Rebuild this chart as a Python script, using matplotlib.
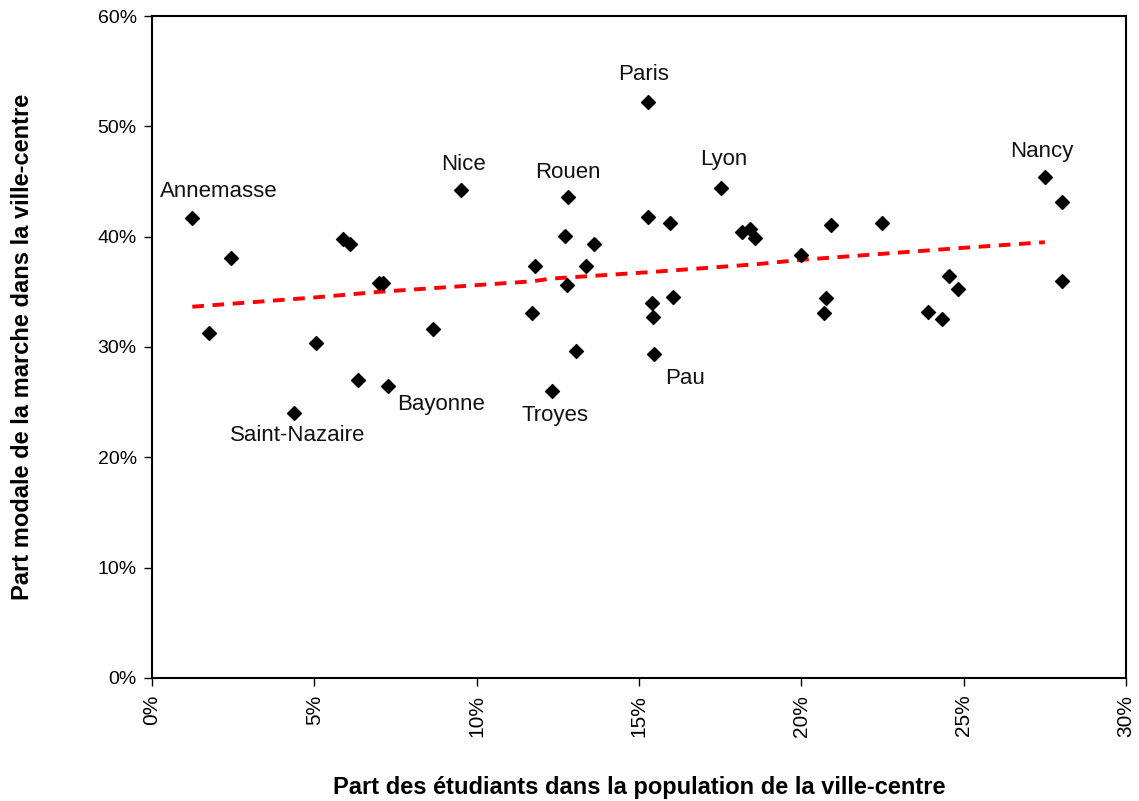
import numpy as np
import matplotlib.pyplot as plt
from matplotlib.ticker import FuncFormatter

plt.rcParams['font.family'] = ['Liberation Sans', 'DejaVu Sans']

# part des etudiants (%) / part modale de la marche (%)
etudiants = [1.24, 1.76, 2.42, 4.38, 5.05, 5.87, 6.10, 6.33, 7.00, 7.10, 7.28,
             8.66, 9.52, 11.70, 11.81, 12.31, 12.72, 12.77, 12.81, 13.05, 13.37,
             13.61, 15.29, 15.29, 15.39, 15.44, 15.45, 15.95, 16.06, 17.51,
             18.18, 18.42, 18.58, 19.98, 20.69, 20.76, 20.91, 22.48, 23.89,
             24.33, 24.56, 24.84, 27.51, 28.02, 28.02]
marche = [41.7, 31.25, 38.1, 24.0, 30.4, 39.8, 39.3, 27.0, 35.8, 35.8, 26.5,
          31.6, 44.2, 33.1, 37.3, 26.0, 40.1, 35.6, 43.6, 29.6, 37.3,
          39.3, 52.25, 41.8, 34.0, 32.7, 29.4, 41.25, 34.5, 44.4,
          40.4, 40.7, 39.9, 38.35, 33.1, 34.4, 41.1, 41.25, 33.2,
          32.5, 36.4, 35.3, 45.4, 43.1, 36.0]

# courbe de tendance (pointillés rouges)
tend_x = [1.24, 5.05, 7.0, 11.7, 12.3, 15.4, 18.6, 20.0, 24.8, 27.5]
tend_y = [33.65, 34.5, 35.0, 35.95, 36.2, 36.8, 37.5, 37.9, 38.95, 39.5]

# villes annotées : nom, position du texte (centre)
villes = ['Annemasse', 'Nice', 'Paris', 'Rouen', 'Lyon', 'Nancy',
          'Saint-Nazaire', 'Bayonne', 'Troyes', 'Pau']
villes_x = [2.05, 9.6, 15.15, 12.8, 17.6, 27.4, 4.5, 8.9, 12.4, 16.42]
villes_y = [44.1, 46.5, 54.7, 45.8, 47.0, 47.7, 22.0, 24.8, 23.75, 27.1]

fig = plt.figure(figsize=(11.39, 8.01), dpi=100)
ax = fig.add_axes([0.1335, 0.1536, 0.8551, 0.8264])

ax.plot(tend_x, tend_y, color='red', linestyle=(0, (3, 2.2)), linewidth=2.8, zorder=2)
ax.scatter(etudiants, marche, marker='D', s=50, color='black', zorder=3)

for nom, tx, ty in zip(villes, villes_x, villes_y):
    ax.text(tx, ty, nom, fontsize=16, ha='center', va='center', color='#111111')

ax.set_xlim(0, 30)
ax.set_ylim(0, 60)
ax.set_xticks(np.arange(0, 31, 5))
ax.set_yticks(np.arange(0, 61, 10))
pct = FuncFormatter(lambda v, p: '%d%%' % v)
ax.xaxis.set_major_formatter(pct)
ax.yaxis.set_major_formatter(pct)
ax.tick_params(axis='both', direction='out', length=6, width=1)
ax.tick_params(axis='y', labelsize=14, pad=5)
ax.tick_params(axis='x', labelsize=15, pad=6)
plt.setp(ax.get_xticklabels(), rotation=90)
for s in ax.spines.values():
    s.set_linewidth(1.5)

ax.set_xlabel('Part des étudiants dans la population de la ville-centre',
              fontsize=17, fontweight='bold', labelpad=28)
ax.set_ylabel('Part modale de la marche dans la ville-centre',
              fontsize=17, fontweight='bold', labelpad=46)

fig.savefig('out.png', dpi=100)
